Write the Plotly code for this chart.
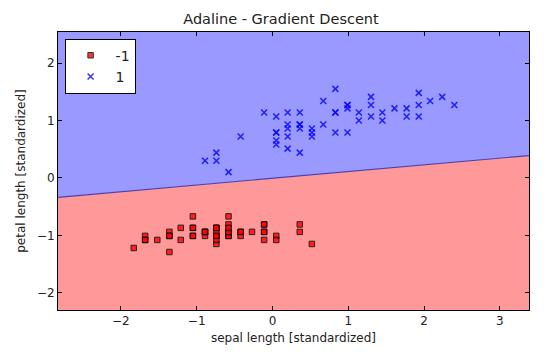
import plotly.graph_objects as go

# ---- data (standardized sepal length / petal length) ----
setosa_x = [-0.58, -0.89, -1.21, -1.36, -0.74, -0.11, -1.36, -0.74, -1.68, -0.89,
            -0.11, -1.05, -1.05, -1.83, 0.52, 0.36, -0.11, -0.58, 0.36, -0.58,
            -0.11, -0.58, -1.36, -0.58, -1.05, -0.74, -0.74, -0.42, -0.42, -1.21,
            -1.05, -0.11, -0.42, 0.05, -0.89, -0.74, 0.05, -0.89, -1.68, -0.58,
            -0.74, -1.52, -1.68, -0.74, -0.58, -1.05, -0.58, -1.36, -0.27, -0.74]
setosa_y = [-1.01, -1.01, -1.08, -0.94, -1.01, -0.81, -1.01, -0.94, -1.01, -0.94,
            -0.94, -0.87, -1.01, -1.22, -1.15, -0.94, -1.08, -1.01, -0.81, -0.94,
            -0.81, -0.94, -1.29, -0.81, -0.67, -0.87, -0.87, -0.94, -1.01, -0.87,
            -0.87, -0.94, -0.94, -1.01, -0.94, -1.15, -1.08, -0.94, -1.08, -0.94,
            -1.08, -1.08, -1.08, -0.87, -0.67, -1.01, -0.87, -1.01, -0.94, -1.01]

versicolor_x = [2.40, 1.45, 2.24, 0.05, 1.61, 0.36, 1.30, -0.89, 1.77, -0.42,
                -0.74, 0.67, 0.83, 0.99, 0.20, 1.93, 0.20, 0.52, 1.14, 0.20,
                0.67, 0.99, 1.30, 0.99, 1.45, 1.77, 2.08, 1.93, 0.83, 0.36,
                0.05, 0.05, 0.52, 0.83, -0.11, 0.83, 1.93, 1.30, 0.20, 0.05,
                0.05, 0.99, 0.52, -0.74, 0.20, 0.36, 0.36, 1.14, -0.58, 0.36]
versicolor_y = [1.27, 1.14, 1.41, 0.79, 1.21, 1.14, 1.27, 0.30, 1.21, 0.72,
                0.44, 0.93, 0.79, 1.27, 0.51, 1.07, 1.14, 0.86, 1.14, 0.72,
                1.34, 0.79, 1.41, 1.27, 1.00, 1.07, 1.34, 1.48, 1.14, 0.44,
                0.65, 0.58, 0.72, 1.55, 1.14, 1.14, 1.27, 1.07, 0.86, 0.79,
                1.07, 1.21, 0.79, 0.30, 0.93, 0.93, 0.93, 1.00, 0.10, 0.86]

# decision boundary read at the left and right edges of the plot
boundary_x = [-2.83, 3.385]
boundary_y = [-0.338, 0.389]

x_range = [-2.83, 3.385]
y_range = [-2.30, 2.54]

x_ticks = [-2, -1, 0, 1, 2, 3]
y_ticks = [-2, -1, 0, 1, 2]

class_labels = ["-1", "1"]

FONT = "DejaVu Sans"

fig = go.Figure()

# decision regions
fig.add_trace(go.Scatter(
    x=boundary_x + [x_range[1], x_range[0]],
    y=boundary_y + [y_range[0], y_range[0]],
    fill="toself", fillcolor="#ff9999", mode="none",
    showlegend=False, hoverinfo="skip"))
fig.add_trace(go.Scatter(
    x=boundary_x + [x_range[1], x_range[0]],
    y=boundary_y + [y_range[1], y_range[1]],
    fill="toself", fillcolor="#9999ff", mode="none",
    showlegend=False, hoverinfo="skip"))
fig.add_trace(go.Scatter(
    x=boundary_x, y=boundary_y, mode="lines",
    line=dict(color="#4a3fb0", width=1.2),
    showlegend=False, hoverinfo="skip"))

# samples
fig.add_trace(go.Scatter(
    x=setosa_x, y=setosa_y, mode="markers", name=class_labels[0],
    marker=dict(symbol="square", size=5.5, color="red", opacity=0.8,
                line=dict(color="black", width=1))))
fig.add_trace(go.Scatter(
    x=versicolor_x, y=versicolor_y, mode="markers", name=class_labels[1],
    marker=dict(symbol="x-thin", size=6, color="blue", opacity=0.8,
                line=dict(color="blue", width=1.5))))

axis_common = dict(
    showline=True, linecolor="black", linewidth=1, mirror="ticks",
    ticks="inside", ticklen=4, tickcolor="black", showgrid=False,
    zeroline=False, tickfont=dict(family=FONT, size=12, color="#222"),
)

# the page body adds an 8px offset, so the figure is 8px smaller
fig.update_layout(
    width=546, height=349,
    margin=dict(l=50, r=25, t=24, b=47),
    paper_bgcolor="white", plot_bgcolor="white",
    title=dict(text="Adaline - Gradient Descent", x=0.5, xanchor="center",
               y=0.968, yanchor="middle",
               font=dict(family=FONT, size=14.5, color="#222")),
    xaxis=dict(range=x_range, tickvals=x_ticks,
               ticktext=["\u22122", "\u22121", "0", "1", "2", "3"],
               title=dict(text="sepal length [standardized]", standoff=6,
                          font=dict(family=FONT, size=12, color="#222")),
               **axis_common),
    yaxis=dict(range=y_range, tickvals=y_ticks,
               ticktext=["\u22122", "\u22121", "0", "1", "2"],
               title=dict(text="petal length [standardized]", standoff=8,
                          font=dict(family=FONT, size=12, color="#222")),
               **axis_common),
    legend=dict(x=0.014, y=0.976, xanchor="left", yanchor="top",
                bgcolor="white", bordercolor="black", borderwidth=1,
                font=dict(family=FONT, size=14, color="#222"),
                itemwidth=40, tracegroupgap=0),
    showlegend=True,
)

fig.write_html("out.html")
